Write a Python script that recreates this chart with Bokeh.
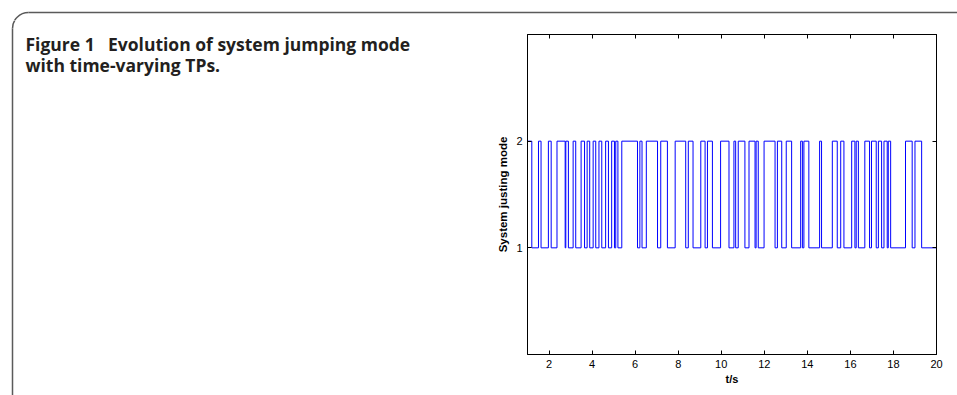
import math
from bokeh.plotting import figure
from bokeh.layouts import column, row
from bokeh.models import LinearAxis, Range1d, FixedTicker
from bokeh.core.properties import value
from bokeh.embed import file_html
from bokeh.resources import INLINE

# ---- data ----
high_start = [1.00, 1.51, 1.97, 2.37, 2.78, 3.12, 3.49, 3.77, 4.05, 4.32, 4.63, 4.91,
              5.10, 5.38, 6.22, 6.52, 7.19, 7.86, 8.47, 9.05, 9.36, 9.97, 10.59, 10.79,
              11.29, 11.62, 11.99, 12.61, 13.02, 13.69, 13.84, 14.57, 15.16, 15.55, 16.06,
              16.27, 16.67, 16.98, 17.30, 17.56, 17.76, 18.56, 19.00]
high_end = [1.20, 1.63, 2.10, 2.75, 2.90, 3.24, 3.65, 3.89, 4.17, 4.45, 4.76, 5.04,
            5.20, 6.11, 6.32, 7.04, 7.50, 8.35, 8.69, 9.25, 9.59, 10.36, 10.67, 11.10,
            11.57, 11.72, 12.50, 12.81, 13.27, 13.77, 14.07, 14.66, 15.39, 15.70, 16.21,
            16.37, 16.89, 17.20, 17.45, 17.71, 17.87, 18.87, 19.31]
t_start, t_end = 1.0, 20.0
low_mode, high_mode = 1, 2
x_ticks = [2, 4, 6, 8, 10, 12, 14, 16, 18, 20]
y_ticks = [1, 2]
caption_lines = ["Figure 1\u2002\u00a0Evolution of system jumping mode", "with time-varying TPs."]
x_label = "t/s"
y_label = "System justing mode"

# build step sequence
t_pts = [t_start]
m_pts = [low_mode]
for s, e in zip(high_start, high_end):
    t_pts += [s, e]
    m_pts += [high_mode, low_mode]
t_pts.append(t_end)
m_pts.append(high_mode)

W, H = 957, 395
STRIP_H = 20
SPLIT_X = 480
BORDER_COLOR = "#5a5a5a"


def page_fig(w, h, x0, y0):
    f = figure(width=w, height=h, x_range=Range1d(x0, x0 + w), y_range=Range1d(y0 + h, y0),
               x_axis_type=None, y_axis_type=None, output_backend="svg",
               toolbar_location=None, min_border=0)
    f.min_border_left = f.min_border_right = f.min_border_top = f.min_border_bottom = 0
    f.outline_line_color = None
    f.grid.visible = False
    f.background_fill_color = "white"
    f.border_fill_color = "white"
    # rounded frame of the figure box
    f.line([12, 12], [28, H + 10], line_color=BORDER_COLOR, line_width=1.5)
    f.line([28, W + 10], [12, 12], line_color=BORDER_COLOR, line_width=1.5)
    f.arc(x=[28], y=[28], radius=16, start_angle=math.pi / 2, end_angle=math.pi,
          direction="anticlock", line_color=BORDER_COLOR, line_width=1.5)
    return f


strip = page_fig(W, STRIP_H, 0, 0)
left = page_fig(SPLIT_X, H - STRIP_H, 0, STRIP_H)
left.text(x=[25, 25], y=[43, 64], text=caption_lines,
          text_font=value("Open Sans"), text_font_style="bold", text_font_size="17.5px",
          text_color="#231f20", text_baseline="alphabetic", text_align="left")

p = figure(width=W - SPLIT_X, height=H - STRIP_H, x_range=Range1d(1, 20), y_range=Range1d(0, 3),
           output_backend="svg", toolbar_location=None)
p.min_border_left = 527 - SPLIT_X
p.min_border_right = W - 936
p.min_border_top = 34 - STRIP_H
p.min_border_bottom = 41
p.background_fill_color = "white"
p.border_fill_color = "white"
p.outline_line_color = "black"
p.outline_line_width = 1
p.xgrid.visible = False
p.ygrid.visible = False

p.step(t_pts, m_pts, mode="after", line_color="#0000ff", line_width=1)

FONT = "Liberation Sans"


def style_axis(ax, ticks, show_labels=True):
    ax.ticker = FixedTicker(ticks=ticks)
    ax.axis_line_color = "black"
    ax.axis_line_width = 1
    ax.major_tick_line_color = "black"
    ax.major_tick_in = 4
    ax.major_tick_out = 0
    ax.minor_tick_line_color = None
    ax.major_label_text_font = FONT
    if show_labels:
        ax.major_label_text_font_size = "11px"
        ax.major_label_text_color = "black"
    else:
        ax.major_label_text_font_size = "1px"
        ax.major_label_text_color = None
        ax.major_label_standoff = 0


xb = p.xaxis[0]
style_axis(xb, x_ticks)
xb.major_label_standoff = 5
xb.axis_label = x_label
xb.axis_label_text_font = FONT
xb.axis_label_text_font_style = "bold"
xb.axis_label_text_font_size = "11px"
xb.axis_label_text_color = "black"
xb.axis_label_standoff = 2

yl = p.yaxis[0]
style_axis(yl, y_ticks)
yl.major_label_standoff = 5
yl.axis_label = y_label
yl.axis_label_text_font = FONT
yl.axis_label_text_font_style = "bold"
yl.axis_label_text_font_size = "11.5px"
yl.axis_label_text_color = "black"
yl.axis_label_standoff = 4

xt = LinearAxis()
style_axis(xt, x_ticks, show_labels=False)
p.add_layout(xt, "above")
yr = LinearAxis()
style_axis(yr, y_ticks, show_labels=False)
p.add_layout(yr, "right")

layout = column(strip, row(left, column(p, spacing=0), spacing=0), spacing=0)
open("out.html", "w").write(file_html(layout, INLINE))
